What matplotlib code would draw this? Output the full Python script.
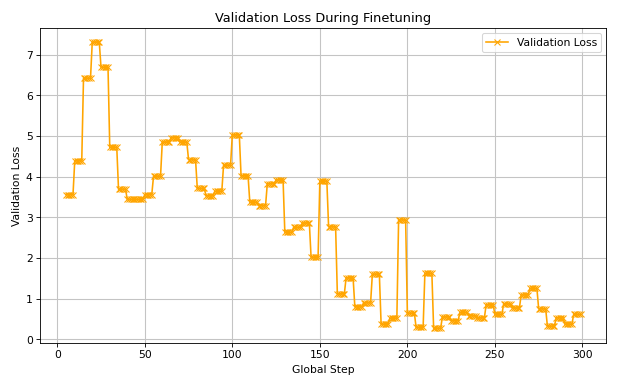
import matplotlib
matplotlib.use("Agg")
import matplotlib.pyplot as plt

# validation loss, one value per 5-step evaluation window (steps 5..299)
window_starts = list(range(5, 300, 5))
window_loss = [
    3.56, 4.39, 6.42, 7.31, 6.69, 4.72, 3.69, 3.44, 3.44, 3.56,
    4.01, 4.85, 4.96, 4.85, 4.42, 3.71, 3.53, 3.64, 4.28, 5.03,
    4.02, 3.37, 3.29, 3.83, 3.92, 2.63, 2.75, 2.86, 2.02, 3.89,
    2.77, 1.12, 1.51, 0.80, 0.90, 1.60, 0.37, 0.52, 2.94, 0.64,
    0.29, 1.62, 0.27, 0.55, 0.46, 0.66, 0.58, 0.53, 0.85, 0.61,
    0.87, 0.77, 1.09, 1.25, 0.75, 0.32, 0.53, 0.37, 0.61,
]
steps_per_window = 5

# each logged step inside a window carries the same loss
global_steps = []
val_loss = []
for start, loss in zip(window_starts, window_loss):
    for i in range(steps_per_window):
        global_steps.append(start + i)
        val_loss.append(loss)

fig, ax = plt.subplots(figsize=(8, 5), dpi=77.25)

ax.plot(global_steps, val_loss, label='Validation Loss', color='orange', marker='x')

ax.set_xlabel('Global Step')
ax.set_ylabel('Validation Loss')
ax.set_title('Validation Loss During Finetuning')
ax.legend(loc='upper right')
ax.grid(True, color='#c4c4c4', linewidth=1.0)

fig.tight_layout()
fig.savefig('out.png', dpi=77.25)
